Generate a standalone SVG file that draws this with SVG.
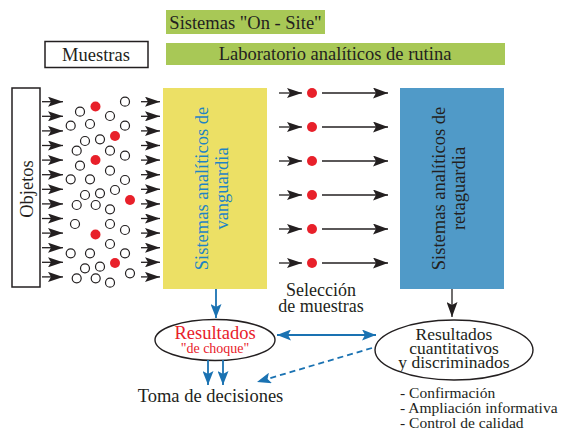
<svg xmlns="http://www.w3.org/2000/svg" width="565" height="431" viewBox="0 0 565 431" font-family="'Liberation Serif', 'Times New Roman', serif">
<style>
text{font-family:"Liberation Serif","Times New Roman",serif;fill:#231f20}
.t18{font-size:18.5px}
.ln{stroke:#231f20;stroke-width:1.3;fill:none}
.bl{stroke:#1a72b2;stroke-width:1.8;fill:none}
.oc{fill:#fff;stroke:#231f20;stroke-width:1.2}
.rd{fill:#e8202a}
</style>
<defs>
<marker id="ah" markerUnits="userSpaceOnUse" markerWidth="15" markerHeight="11" refX="15" refY="5.5" orient="auto" viewBox="0 0 15 11">
<path d="M0,0 L15,5.5 L0,11 L3,5.5 z" fill="#231f20"/>
</marker>
<marker id="ab" markerUnits="userSpaceOnUse" markerWidth="14" markerHeight="11" refX="14" refY="5.5" orient="auto-start-reverse" viewBox="0 0 14 11">
<path d="M0,0 L14,5.5 L0,11 L3,5.5 z" fill="#1a72b2"/>
</marker>
<marker id="sa" markerUnits="userSpaceOnUse" markerWidth="15" markerHeight="10" refX="15" refY="5" orient="auto" viewBox="0 0 15 10">
<path d="M0,0 L15,5 L0,10 L3,5 z" fill="#231f20"/>
</marker>
</defs>

<g id="onsite">
<rect x="166" y="10" width="159" height="24" fill="#a8c856"/>
<text class="t18" x="245.5" y="29" text-anchor="middle">Sistemas "On - Site"</text>
</g>
<g id="laboratorio">
<rect x="166" y="43" width="339" height="22" fill="#a8c856"/>
<text class="t18" x="335" y="60" text-anchor="middle">Laboratorio analíticos de rutina</text>
</g>
<g id="muestras">
<rect x="45" y="41.5" width="103" height="26" fill="#fff" stroke="#231f20" stroke-width="1.5"/>
<text class="t18" x="96" y="61" text-anchor="middle">Muestras</text>
</g>
<g id="objetos">
<rect x="12" y="88" width="28" height="199" fill="#fff" stroke="#231f20" stroke-width="1.5"/>
<text class="t18" transform="translate(32.5,189) rotate(-90)" text-anchor="middle">Objetos</text>
</g>

<g id="particles">
<circle class="rd" cx="95.5" cy="106.5" r="5"/>
<circle class="rd" cx="115" cy="136" r="5"/>
<circle class="rd" cx="95.5" cy="160" r="5"/>
<circle class="rd" cx="130" cy="200" r="5"/>
<circle class="rd" cx="95.5" cy="234.5" r="5"/>
<circle class="rd" cx="115" cy="263" r="5"/>
<circle class="oc" cx="125" cy="101.7" r="4.5"/>
<circle class="oc" cx="80" cy="111.7" r="4.5"/>
<circle class="oc" cx="110" cy="116" r="4.5"/>
<circle class="oc" cx="70.7" cy="125.7" r="4.5"/>
<circle class="oc" cx="90" cy="124" r="4.5"/>
<circle class="oc" cx="125" cy="125.7" r="4.5"/>
<circle class="oc" cx="85" cy="141" r="4.5"/>
<circle class="oc" cx="100" cy="139.3" r="4.5"/>
<circle class="oc" cx="76.7" cy="150.7" r="4.5"/>
<circle class="oc" cx="110" cy="150.7" r="4.5"/>
<circle class="oc" cx="125" cy="155.7" r="4.5"/>
<circle class="oc" cx="80" cy="165.7" r="4.5"/>
<circle class="oc" cx="110" cy="170.7" r="4.5"/>
<circle class="oc" cx="70.7" cy="179.3" r="4.5"/>
<circle class="oc" cx="90" cy="179.3" r="4.5"/>
<circle class="oc" cx="125" cy="180" r="4.5"/>
<circle class="oc" cx="115" cy="190" r="4.5"/>
<circle class="oc" cx="85" cy="195" r="4.5"/>
<circle class="oc" cx="100" cy="193.3" r="4.5"/>
<circle class="oc" cx="76.7" cy="205" r="4.5"/>
<circle class="oc" cx="95.7" cy="205" r="4.5"/>
<circle class="oc" cx="110" cy="209.3" r="4.5"/>
<circle class="oc" cx="75" cy="224" r="4.5"/>
<circle class="oc" cx="110" cy="224" r="4.5"/>
<circle class="oc" cx="125" cy="230" r="4.5"/>
<circle class="oc" cx="110" cy="244" r="4.5"/>
<circle class="oc" cx="70.7" cy="253.3" r="4.5"/>
<circle class="oc" cx="90" cy="253.3" r="4.5"/>
<circle class="oc" cx="125" cy="253.3" r="4.5"/>
<circle class="oc" cx="85" cy="268.3" r="4.5"/>
<circle class="oc" cx="100" cy="266.7" r="4.5"/>
<circle class="oc" cx="130" cy="273.3" r="4.5"/>
<circle class="oc" cx="76.7" cy="278.3" r="4.5"/>
<circle class="oc" cx="95.7" cy="278.3" r="4.5"/>
<circle class="oc" cx="110" cy="282.7" r="4.5"/>
</g>

<g id="vanguardia">
<rect x="163" y="88" width="104" height="201" fill="#ece065"/>
<text class="t18" style="fill:#1f84c4" transform="translate(208,188.5) rotate(-90)" text-anchor="middle">Sistemas analíticos de</text>
<text class="t18" style="fill:#1f84c4" transform="translate(228,188.5) rotate(-90)" text-anchor="middle">vanguardia</text>
</g>
<g id="retaguardia">
<rect x="400" y="88" width="104" height="201" fill="#509ac8"/>
<text class="t18" transform="translate(445,188.5) rotate(-90)" text-anchor="middle">Sistemas analíticos de</text>
<text class="t18" transform="translate(465,188.5) rotate(-90)" text-anchor="middle">retaguardia</text>
</g>

<g id="seleccion">
<text x="321" y="296" text-anchor="middle" style="font-size:18px">Selección</text>
<text x="321" y="312" text-anchor="middle" style="font-size:18px">de muestras</text>
<circle class="rd" cx="312" cy="93" r="5"/>
<circle class="rd" cx="312" cy="127" r="5"/>
<circle class="rd" cx="312" cy="161" r="5"/>
<circle class="rd" cx="312" cy="195" r="5"/>
<circle class="rd" cx="312" cy="229" r="5"/>
<circle class="rd" cx="312" cy="263" r="5"/>
</g>

<g id="resultados-choque">
<ellipse cx="215" cy="340" rx="60" ry="20.5" fill="#fff" stroke="#231f20" stroke-width="1.4"/>
<text x="215" y="339" text-anchor="middle" style="font-size:18.5px;fill:#e8202a">Resultados</text>
<text x="215" y="353" text-anchor="middle" style="font-size:14px;fill:#e8202a">"de choque"</text>
</g>
<g id="resultados-cuant">
<ellipse cx="454" cy="350" rx="79" ry="30" fill="#fff" stroke="#231f20" stroke-width="1.4"/>
<text x="454" y="340" text-anchor="middle" style="font-size:17.5px">Resultados</text>
<text x="454" y="354" text-anchor="middle" style="font-size:17.5px">cuantitativos</text>
<text x="454" y="367.5" text-anchor="middle" style="font-size:17.5px">y discriminados</text>
</g>
<g id="toma-decisiones">
<text class="t18" x="210.5" y="402" text-anchor="middle">Toma de decisiones</text>
</g>
<g id="lista">
<text x="400" y="398" style="font-size:15.5px">- Confirmación</text>
<text x="400" y="413" style="font-size:15.5px">- Ampliación informativa</text>
<text x="400" y="428" style="font-size:15.5px">- Control de calidad</text>
</g>

<g id="connectors">
<g class="ln" marker-end="url(#sa)">
<path d="M42,101.7H63"/><path d="M42,116.3H63"/><path d="M42,130.9H63"/><path d="M42,145.5H63"/><path d="M42,160.1H63"/><path d="M42,174.7H63"/><path d="M42,189.3H63"/><path d="M42,203.9H63"/><path d="M42,218.5H63"/><path d="M42,233.1H63"/><path d="M42,247.7H63"/><path d="M42,262.3H63"/><path d="M42,276.9H63"/>
<path d="M141,101.7H160"/><path d="M141,116.3H160"/><path d="M141,130.9H160"/><path d="M141,145.5H160"/><path d="M141,160.1H160"/><path d="M141,174.7H160"/><path d="M141,189.3H160"/><path d="M141,203.9H160"/><path d="M141,218.5H160"/><path d="M141,233.1H160"/><path d="M141,247.7H160"/><path d="M141,262.3H160"/><path d="M141,276.9H160"/>
<path d="M279,93H302"/><path d="M279,127H302"/><path d="M279,161H302"/><path d="M279,195H302"/><path d="M279,229H302"/><path d="M279,263H302"/>
</g>
<g class="ln" marker-end="url(#ah)">
<path d="M322,93H388"/><path d="M322,127H388"/><path d="M322,161H388"/><path d="M322,195H388"/><path d="M322,229H388"/><path d="M322,263H388"/>
<path d="M452,289V317"/>
</g>
<g class="bl">
<path d="M216,289V318" marker-end="url(#ab)"/>
<path d="M208,360V385" marker-end="url(#ab)"/>
<path d="M223,360V385" marker-end="url(#ab)"/>
<path d="M277,335H376" marker-start="url(#ab)" marker-end="url(#ab)"/>
<path d="M372,348L257,382" stroke-dasharray="6,4" marker-end="url(#ab)"/>
</g>
</g>
</svg>
